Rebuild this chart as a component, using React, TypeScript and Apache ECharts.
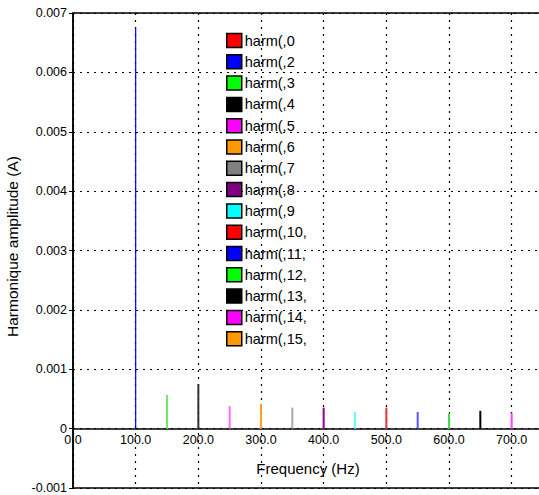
import React, { useEffect, useRef } from "react";
import * as echarts from "echarts";

const harmonicNames = [
  "harm(,0", "harm(,2", "harm(,3", "harm(,4", "harm(,5", "harm(,6", "harm(,7", "harm(,8",
  "harm(,9", "harm(,10,", "harm(,11,", "harm(,12,", "harm(,13,", "harm(,14,", "harm(,15,",
];
const frequencies = [0, 100, 150, 200, 250, 300, 350, 400, 450, 500, 550, 600, 650, 700, 750];
const amplitudes = [
  0, 0.00675, 0.000567, 0.000748, 0.000377, 0.000416, 0.000354, 0.000354,
  0.00028, 0.000354, 0.00028, 0.00026, 0.0003, 0.00026, 0.00025,
];
const legendColors = [
  "#ff0000", "#0000ff", "#00ff00", "#000000", "#ff00ff", "#ff9900", "#808080", "#800080",
  "#00ffff", "#ff0000", "#0000ff", "#00ff00", "#000000", "#ff00ff", "#ff9900",
];
const stemColors = [
  "#ff0000", "#0000ff", "#66ee66", "#333333", "#ff66ff", "#ffa020", "#aaaaaa", "#990099",
  "#66ffff", "#ee3333", "#5555ff", "#44dd44", "#000000", "#ff44ff", "#ff9900",
];
const yTicks = [-0.001, 0, 0.001, 0.002, 0.003, 0.004, 0.005, 0.006, 0.007];
const xTickLabels = ["0.0", "100.0", "200.0", "300.0", "400.0", "500.0", "600.0", "700.0"];

const FONT = "Liberation Sans, Arial, sans-serif";

export default function App() {
  const ref = useRef<HTMLDivElement>(null);
  useEffect(() => {
    if (!ref.current) return;
    const chart = echarts.init(ref.current, undefined, { renderer: "svg" });
    const series = harmonicNames.map((name, i) => ({
      name,
      type: "line",
      data: [
        [frequencies[i], 0],
        [frequencies[i], amplitudes[i]],
      ],
      symbol: "none",
      itemStyle: { color: legendColors[i] },
      lineStyle: { color: stemColors[i], width: i === 1 ? 1.2 : 2 },
      z: 3,
    }));
    chart.setOption({
      animation: false,
      backgroundColor: "#ffffff",
      textStyle: { fontFamily: FONT },
      grid: {
        left: 73,
        right: -4,
        top: 13,
        bottom: 7,
        show: true,
        borderColor: "#000",
        borderWidth: 1.5,
        containLabel: false,
        outerBoundsMode: "none",
      },
      legend: {
        orient: "vertical",
        left: 226,
        top: 32,
        icon: "rect",
        itemWidth: 15,
        itemHeight: 14,
        itemGap: 4.3,
        padding: 0,
        selectedMode: false,
        itemStyle: { borderColor: "#000", borderWidth: 1.5 },
        textStyle: {
          fontFamily: FONT,
          fontSize: 14.5,
          lineHeight: 14,
          color: "#000",
          padding: [3, 0, 0, -2],
        },
        data: harmonicNames,
      },
      xAxis: {
        type: "value",
        min: 0,
        max: 750,
        interval: 100,
        offset: -59.4,
        name: "Frequency (Hz)",
        nameLocation: "middle",
        nameGap: 32,
        nameTextStyle: { fontFamily: FONT, fontSize: 15, color: "#000" },
        axisLine: { onZero: false, lineStyle: { color: "#000", width: 1.5 } },
        axisTick: { show: false },
        axisLabel: {
          fontFamily: FONT,
          fontSize: 12.5,
          color: "#000",
          margin: 5,
          showMaxLabel: false,
          formatter: (v: number) => {
            const idx = Math.round(v / 100);
            return Math.abs(v - idx * 100) < 1e-6 && idx < xTickLabels.length ? xTickLabels[idx] : "";
          },
        },
        splitLine: { show: true, lineStyle: { color: "#000", type: [2, 5], width: 1.2 } },
      },
      yAxis: {
        type: "value",
        min: yTicks[0],
        max: yTicks[yTicks.length - 1],
        interval: 0.001,
        name: "Harmonique amplitude (A)",
        nameLocation: "middle",
        nameGap: 46,
        nameTextStyle: { fontFamily: FONT, fontSize: 15.5, color: "#000", padding: [0, 0, 0, 8] },
        axisLine: { onZero: false, lineStyle: { color: "#000", width: 1.5 } },
        axisTick: { show: true, length: 4, lineStyle: { color: "#000" } },
        axisLabel: {
          fontFamily: FONT,
          fontSize: 12.5,
          color: "#000",
          margin: 6,
          formatter: (v: number) => (Math.abs(v) < 1e-9 ? "0" : v.toFixed(3)),
        },
        splitLine: { show: true, lineStyle: { color: "#000", type: [2, 5], width: 1.2 } },
      },
      series,
    });
    return () => chart.dispose();
  }, []);
  return <div ref={ref} style={{ width: 539, height: 495, position: "absolute", left: 0, top: 0 }} />;
}
